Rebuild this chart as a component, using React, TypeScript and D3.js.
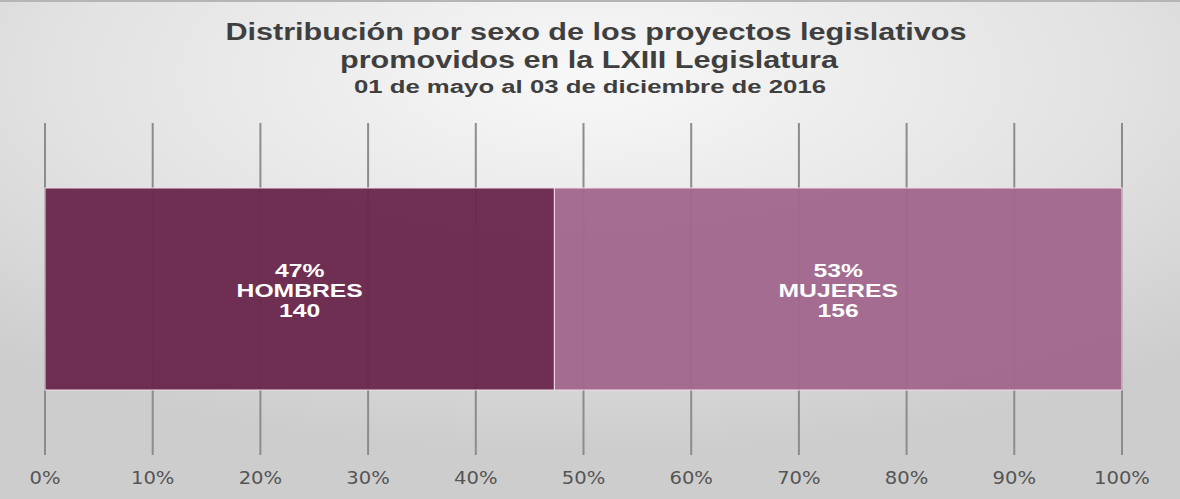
import * as d3 from 'd3';
import React, {useRef, useEffect} from 'react';

const categories = ["HOMBRES", "MUJERES"];
const counts = [140, 156];
const percentLabels = ["47%", "53%"];
const barColours = ["#6a284c", "#a0678d"];
const tickValues = [0, 0.1, 0.2, 0.3, 0.4, 0.5, 0.6, 0.7, 0.8, 0.9, 1];

const titleLines = [
  "Distribución por sexo de los proyectos legislativos",
  "promovidos en la LXIII Legislatura"
];
const titleCentres = [596, 589];
const subtitle = "01 de mayo al 03 de diciembre de 2016";

const W = 1180;
const H = 499;

// the source picture is stretched sideways, so text gets widened to match
const stretch = (sel: any, k: number) => {
  sel.each(function (this: SVGTextElement) {
    const w = this.getComputedTextLength();
    d3.select(this).attr("textLength", w * k).attr("lengthAdjust", "spacingAndGlyphs");
  });
};

export default function App() {
  const ref = useRef<SVGSVGElement>(null);

  useEffect(() => {
    const svg = d3.select(ref.current);
    svg.selectAll("*").remove();

    const defs = svg.append("defs");
    const grad = defs.append("radialGradient")
      .attr("id", "bg")
      .attr("cx", "50%").attr("cy", "15%").attr("r", "75%");
    grad.append("stop").attr("offset", "0%").attr("stop-color", "#f8f8f8");
    grad.append("stop").attr("offset", "60%").attr("stop-color", "#e2e2e2");
    grad.append("stop").attr("offset", "100%").attr("stop-color", "#cdcdcd");

    svg.append("rect").attr("width", W).attr("height", H).attr("fill", "url(#bg)");
    svg.append("rect").attr("width", W).attr("height", 2).attr("fill", "#b5b5b5");

    const x = d3.scaleLinear().domain([0, 1]).range([45, 1122]);
    const total = d3.sum(counts);
    const shares = counts.map(c => c / total);
    const starts = shares.map((_, i) => d3.sum(shares.slice(0, i)));

    // grid lines
    svg.append("g")
      .selectAll("line")
      .data(tickValues)
      .enter()
      .append("line")
      .attr("x1", d => x(d)).attr("x2", d => x(d))
      .attr("y1", 123).attr("y2", 455)
      .attr("stroke", "#8c8c8c")
      .attr("stroke-width", 2);

    const y0 = 188, y1 = 390;

    svg.append("g")
      .selectAll("rect")
      .data(shares)
      .enter()
      .append("rect")
      .attr("x", (d, i) => x(starts[i]))
      .attr("y", y0)
      .attr("width", d => x(d) - x(0))
      .attr("height", y1 - y0)
      .attr("fill", (d, i) => barColours[i])
      .attr("fill-opacity", 0.96)
      .attr("stroke", "#f3dcea")
      .attr("stroke-width", 1);

    // labels
    const rows = [
      (i: number) => percentLabels[i],
      (i: number) => categories[i],
      (i: number) => String(counts[i])
    ];
    rows.forEach((fn, r) => {
      const t = svg.append("g")
        .selectAll("text")
        .data(shares)
        .enter()
        .append("text")
        .attr("x", (d, i) => x(starts[i] + d / 2))
        .attr("y", 277 + r * 20)
        .attr("text-anchor", "middle")
        .attr("fill", "#ffffff")
        .style("font-family", "'Liberation Sans', Arial, sans-serif")
        .style("font-size", "19px")
        .style("font-weight", "bold")
        .text((d, i) => fn(i));
      stretch(t, 1.3);
    });

    // tick labels
    const ticks = svg.append("g")
      .selectAll("text")
      .data(tickValues)
      .enter()
      .append("text")
      .attr("x", d => x(d))
      .attr("y", 484)
      .attr("text-anchor", "middle")
      .attr("fill", "#555555")
      .style("font-family", "'DejaVu Sans', sans-serif")
      .style("font-size", "17px")
      .text(d => d3.format(".0%")(d));
    stretch(ticks, 1.15);

    // titles
    const t = svg.append("g")
      .style("font-family", "'Liberation Sans', Arial, sans-serif")
      .style("font-weight", "bold")
      .attr("fill", "#3f3f3f")
      .attr("text-anchor", "middle");
    titleLines.forEach((line, i) => {
      const tt = t.append("text").attr("x", titleCentres[i]).attr("y", 40 + i * 28).style("font-size", "23px").text(line);
      stretch(tt, 1.33);
    });
    const st = t.append("text").attr("x", 590).attr("y", 93).style("font-size", "18px").text(subtitle);
    stretch(st, 1.43);
  }, []);

  return (
    <svg ref={ref} width={W} height={H} style={{position: "absolute", left: 0, top: 0}} />
  );
}
